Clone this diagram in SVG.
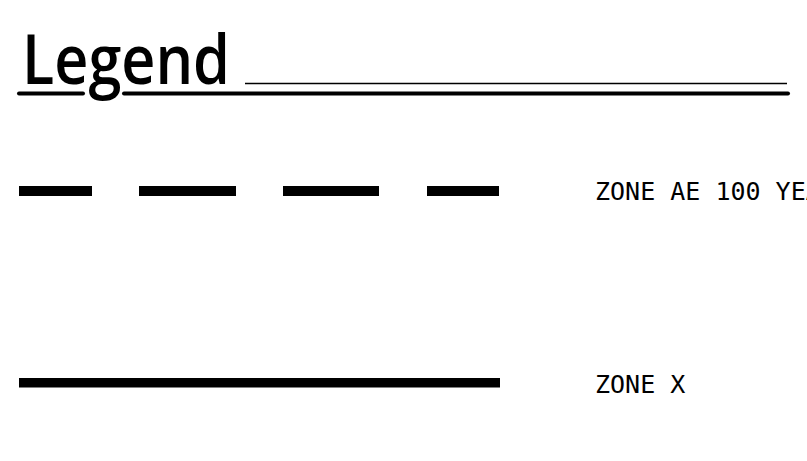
<svg xmlns="http://www.w3.org/2000/svg" width="807" height="461" viewBox="0 0 807 461">
<style>
.title{font-family:"Open Sans","Noto Sans","DejaVu Sans",sans-serif;font-size:68px;font-weight:600;fill:#000}
.lbl{font-family:"DejaVu Sans Mono","Liberation Mono",monospace;font-size:25px;fill:#000}
.ul{stroke:#000;stroke-width:4;stroke-linecap:round;fill:none}
.sym{fill:#000}
</style>
<rect width="807" height="461" fill="#fff"/>
<g id="title">
<text class="title" x="22" y="84" textLength="208" lengthAdjust="spacingAndGlyphs">Legend</text>
<line class="ul" x1="19" y1="93.5" x2="83" y2="93.5"/>
<line class="ul" x1="124" y1="93.5" x2="788" y2="93.5"/>
<line x1="245" y1="83.5" x2="787" y2="83.5" stroke="#000" stroke-width="1.5"/>
</g>
<g id="zone-ae">
<rect class="sym" x="19" y="186" width="73" height="10"/>
<rect class="sym" x="139" y="186" width="97" height="10"/>
<rect class="sym" x="283" y="186" width="96" height="10"/>
<rect class="sym" x="427" y="186" width="72" height="10"/>
<text class="lbl" x="595" y="200">ZONE AE 100 YEA</text>
</g>
<g id="zone-x">
<rect class="sym" x="19" y="378" width="481" height="9.5"/>
<text class="lbl" x="595" y="393">ZONE X</text>
</g>
</svg>
